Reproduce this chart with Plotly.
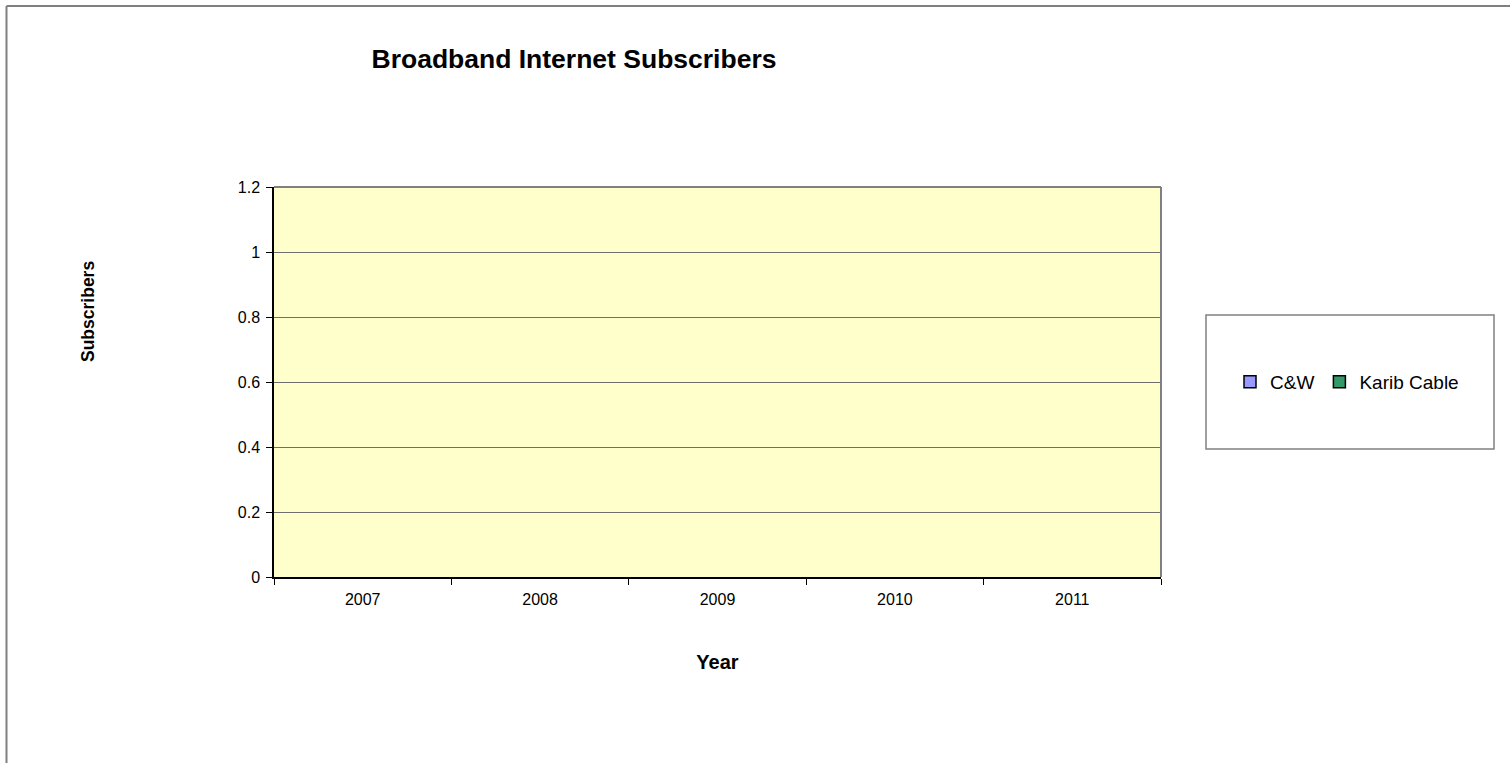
import plotly.graph_objects as go

# Broadband subscriber counts per year (no figures reported)
years = ["2007", "2008", "2009", "2010", "2011"]
cw_subscribers = [None, None, None, None, None]
karib_subscribers = [None, None, None, None, None]

series_names = ["C&W", "Karib Cable"]
series_colors = ["#9999FF", "#339966"]

FONT = "Liberation Sans, Arial, sans-serif"
GREY = "#808080"

fig = go.Figure()
for name, vals, col in zip(series_names, [cw_subscribers, karib_subscribers], series_colors):
    fig.add_trace(go.Bar(
        x=years, y=vals, name=name,
        marker=dict(color=col, line=dict(color="black", width=1.5)),
    ))

W, H = 1510, 763
L, R, T, B = 274, 349, 187, 186
pw, ph = W - L - R, H - T - B


def px(x):
    return (x - L) / pw


def py(y):
    return (H - B - y) / ph


shapes = [
    # outer chart frame (top and left edges)
    dict(type="line", xref="paper", yref="paper", x0=px(6.5), x1=px(1520), y0=py(6), y1=py(6),
         line=dict(color=GREY, width=2)),
    dict(type="line", xref="paper", yref="paper", x0=px(6.5), x1=px(6.5), y0=py(6), y1=py(780),
         line=dict(color=GREY, width=2)),
    # plot area frame (top and right)
    dict(type="line", xref="paper", yref="paper", x0=0, x1=1, y0=1, y1=1,
         line=dict(color=GREY, width=2)),
    dict(type="line", xref="paper", yref="paper", x0=1, x1=1, y0=0, y1=1,
         line=dict(color=GREY, width=2)),
    # legend box
    dict(type="rect", xref="paper", yref="paper", x0=px(1206), x1=px(1494), y0=py(449), y1=py(315),
         line=dict(color=GREY, width=1.5), fillcolor="rgba(0,0,0,0)"),
]

annotations = [
    dict(text="<b>Subscribers</b>", textangle=-90, xref="paper", yref="paper",
         x=px(88), y=py(312), xanchor="center", yanchor="middle", showarrow=False,
         font=dict(size=17.5, family=FONT, color="black")),
]

fig.update_layout(
    width=W, height=H,
    margin=dict(l=L, r=R, t=T, b=B, autoexpand=False),
    paper_bgcolor="white",
    plot_bgcolor="#FFFFCC",
    font=dict(family=FONT, color="black", size=16),
    title=dict(
        text="<b>Broadband Internet Subscribers</b>",
        x=px(574), xanchor="center", xref="paper",
        y=1 - 59 / H, yanchor="middle", yref="container",
        font=dict(size=26.5, family=FONT, color="black"),
    ),
    barmode="group",
    showlegend=True,
    legend=dict(
        orientation="h",
        x=px(1230), xanchor="left",
        y=py(382), yanchor="middle",
        bgcolor="rgba(0,0,0,0)",
        borderwidth=0,
        font=dict(size=19, family=FONT, color="black"),
    ),
    shapes=shapes,
    annotations=annotations,
    xaxis=dict(
        type="category",
        categoryorder="array", categoryarray=years,
        range=[-0.5, 4.5],
        showline=True, linecolor="black", linewidth=1.5,
        ticks="outside", tickson="boundaries", ticklen=6, tickcolor="black", tickwidth=1,
        ticklabelstandoff=7,
        showgrid=False,
        tickfont=dict(size=16),
        title=dict(text="<b>Year</b>", font=dict(size=20), standoff=48),
        fixedrange=True,
    ),
    yaxis=dict(
        range=[0, 1.2], dtick=0.2, tick0=0,
        showline=True, linecolor="black", linewidth=1.5,
        ticks="outside", ticklen=6, tickcolor="black", tickwidth=1,
        ticklabelstandoff=3,
        showgrid=True, gridcolor="#6E6E6E", gridwidth=1,
        zeroline=False,
        tickfont=dict(size=16),
        fixedrange=True,
    ),
    bargap=0.5,
)

fig.write_html("out.html")
